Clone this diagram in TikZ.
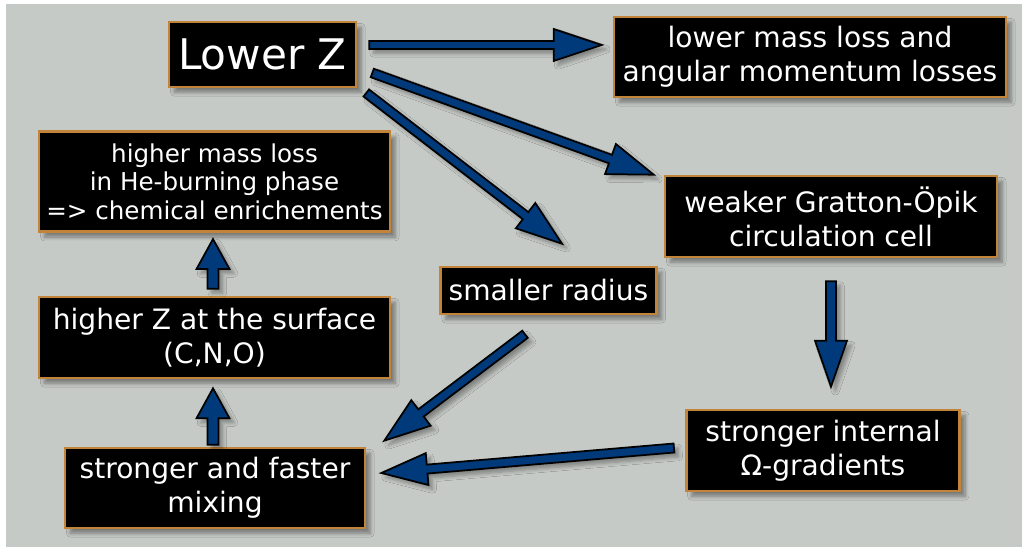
\documentclass[tikz,border=0pt]{standalone}
\usepackage{fontspec}
\setmainfont{DejaVu Sans}
\usepackage{xcolor}
\usepackage{tikz}
\usetikzlibrary{calc, shadows, shadows.blur, positioning}

\definecolor{panelgray}{RGB}{198,202,198}
\definecolor{boxedge}{RGB}{194,132,58}
\definecolor{arrowblue}{RGB}{0,58,122}

% block arrow: tail, tip, shaft half width, head half width, head length
\newcommand{\fatarrow}[5]{%
  \coordinate (neck) at ($(#2)!#5!(#1)$);
  \filldraw[fatarrow] ($(#1)!#3!90:(#2)$) -- ($(neck)!#3!90:(#2)$) -- ($(neck)!#4!90:(#2)$) -- (#2)
    -- ($(neck)!#4!-90:(#2)$) -- ($(neck)!#3!-90:(#2)$) -- ($(#1)!#3!-90:(#2)$) -- cycle;}

\begin{document}
\begin{tikzpicture}[
    x=0.02cm, y=-0.02cm,
    causebox/.style={
        rectangle,
        fill=black,
        draw=boxedge,
        line width=1.5pt,
        inner sep=0pt,
        align=center,
        text=white,
        font=\fontsize{16}{19.5}\selectfont,
        blur shadow={shadow xshift=3pt, shadow yshift=-3pt, shadow blur steps=6, shadow opacity=40}
    },
    fatarrow/.style={
        fill=arrowblue,
        draw=black,
        line width=1pt,
        line join=miter,
        blur shadow={shadow xshift=2.5pt, shadow yshift=-2.5pt, shadow blur steps=6, shadow opacity=35}
    }
]
    \useasboundingbox (0,0) rectangle (1022,547);
    \fill[panelgray] (6,4) rectangle (1022,547);

    % Cause
    \node[causebox, minimum width=3.74cm, minimum height=1.3cm,
          font=\fontsize{24}{28}\selectfont] (lowz) at (262.5,54.5) {Lower Z};

    % Right column
    \node[causebox, minimum width=7.84cm, minimum height=1.6cm] (lml) at (810,57)
        {lower mass loss and\\angular momentum losses};
    \node[causebox, minimum width=6.64cm, minimum height=1.62cm] (grat) at (831,216.5)
        {weaker Gratton-Öpik\\circulation cell};
    \node[causebox, minimum width=5.47cm, minimum height=1.62cm] (sig) at (823,450.5)
        {stronger internal\\Ω-gradients};

    % Middle
    \node[causebox, minimum width=4.32cm, minimum height=0.94cm] (rad) at (548.5,290.5)
        {smaller radius};

    % Left column
    \node[causebox, minimum width=6cm, minimum height=1.6cm] (mix) at (215,488)
        {stronger and faster\\mixing};
    \node[causebox, minimum width=7.02cm, minimum height=1.62cm] (hz) at (214.5,337.5)
        {higher Z at the surface\\(C,N,O)};
    \node[causebox, minimum width=7.02cm, minimum height=2cm,
          font=\fontsize{14}{16.4}\selectfont] (hml) at (214.5,181.75)
        {higher mass loss\\in He-burning phase\\=> chemical enrichements};

    % Arrow ends
    \coordinate (a1s) at ($(lowz.east)+(12,-9.5)$);
    \coordinate (a1e) at ($(lml.west)+(-11,-12)$);
    \coordinate (a2s) at ($(lowz.east)+(15,18.5)$);
    \coordinate (a2e) at ($(grat.north west)+(-10,0)$);
    \coordinate (a3s) at ($(lowz.east)+(9,38.5)$);
    \coordinate (a3e) at ($(rad.north)+(13.5,-22)$);
    \coordinate (a4s) at ($(grat.south)+(0,23)$);
    \coordinate (a4e) at ($(sig.north)+(8,-22)$);
    \coordinate (a5s) at ($(sig.west)+(-11,-2.5)$);
    \coordinate (a5e) at ($(mix.east)+(15,-15)$);
    \coordinate (a6s) at ($(rad.south)+(-23.5,19)$);
    \coordinate (a6e) at ($(mix.north east)+(18,-6)$);
    \coordinate (a7s) at ($(mix.north)+(-2,-2)$);
    \coordinate (a7e) at ($(hz.south)+(-1.5,9)$);
    \coordinate (a8s) at ($(hz.north)+(-1.5,-7)$);
    \coordinate (a8e) at ($(hml.south)+(-1.5,6)$);

    % Arrows
    \fatarrow{a1s}{a1e}{0.08cm}{0.32cm}{0.96cm}
    \fatarrow{a2s}{a2e}{0.09cm}{0.32cm}{0.92cm}
    \fatarrow{a3s}{a3e}{0.09cm}{0.32cm}{0.92cm}
    \fatarrow{a4s}{a4e}{0.1cm}{0.32cm}{0.92cm}
    \fatarrow{a5s}{a5e}{0.09cm}{0.32cm}{0.92cm}
    \fatarrow{a6s}{a6e}{0.09cm}{0.32cm}{0.92cm}
    \fatarrow{a7s}{a7e}{0.11cm}{0.33cm}{0.6cm}
    \fatarrow{a8s}{a8e}{0.11cm}{0.33cm}{0.6cm}
\end{tikzpicture}
\end{document}
